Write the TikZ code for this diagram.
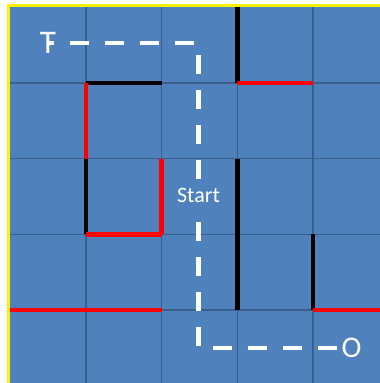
\documentclass[tikz,border=0pt]{standalone}
\usepackage{fontspec}
\setmainfont{Carlito}
\definecolor{cellblue}{HTML}{4F81BD}
\definecolor{lineblue}{HTML}{3A5F8C}

\begin{document}
\begin{tikzpicture}[x=1pt, y=-1pt,
  gridline/.style={draw=lineblue, line width=1.5pt},
  wall/.style={line width=4.5pt},
  route/.style={draw=white, line width=4.5pt, dash pattern=on 19pt off 16pt},
  lbl/.style={text=white, inner sep=0pt}]
  \useasboundingbox (0,0) rectangle (380,383);
  \clip (0,0) rectangle (380,383);
  \fill[white] (0,0) rectangle (380,383);

  % maze board, 5 x 5 cells
  \begin{scope}[shift={(10,7)}, x=75.8pt, y=-75.8pt]
    \fill[cellblue] (0,0) rectangle (5,5);
    \foreach \i in {1,...,5}
      \draw[gridline] (\i,0) -- (\i,5) (0,\i) -- (5,\i);
    \draw[yellow, line width=3pt] (-0.02,5.2) |- (5.2,-0.02);
    % black walls
    \foreach \a/\b in {{(3,0)}/{(3,1)}, {(1,1)}/{(2,1)}, {(1,2)}/{(1,3)},
                       {(3,2)}/{(3,4)}, {(4,3)}/{(4,4)}}
      \draw[wall, black] \a -- \b;
    % red walls
    \foreach \a/\b in {{(3,1)}/{(4,1)}, {(1,1)}/{(1,2)}, {(2,2)}/{(2,3)},
                       {(1,3)}/{(2,3)}, {(4,4)}/{(5,4)}, {(0,4)}/{(2,4)}}
      \draw[wall, red] \a -- \b;
  \end{scope}

  \node[lbl, font=\fontsize{33}{33}\selectfont] (tgt) at (48,43) {T};
  \node[lbl, font=\fontsize{22}{22}\selectfont] (start) at (198.5,195) {Start};
  \node[lbl, font=\fontsize{30}{30}\selectfont] (out) at (351.5,348) {O};

  \draw[route, shorten <=9pt] (start.north) |- (tgt.center);
  \draw[route, shorten <=20pt] (start.south) |- (out.west);
\end{tikzpicture}
\end{document}
